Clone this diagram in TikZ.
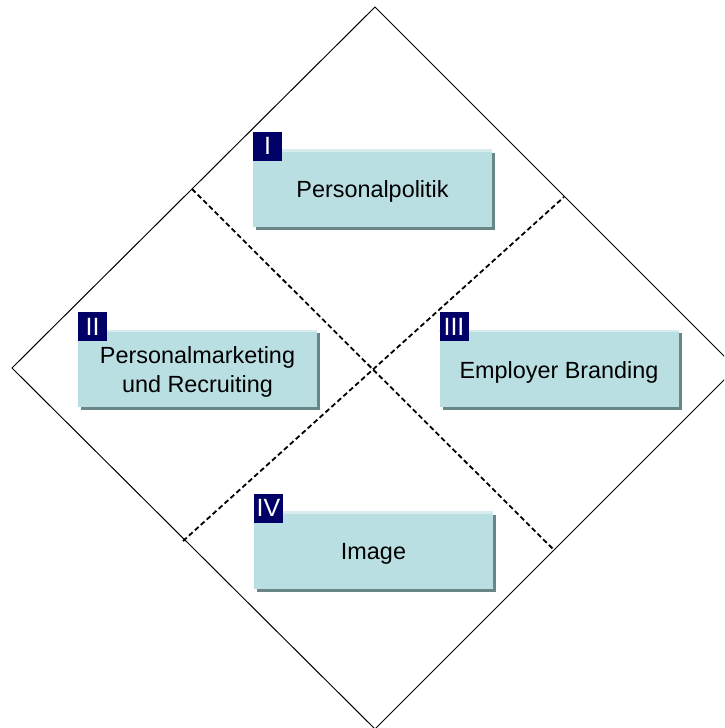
\documentclass[tikz,border=0pt]{standalone}
\usepackage{fontspec}
\setmainfont{Liberation Sans}
\usetikzlibrary{calc}
\definecolor{boxfill}{RGB}{185,223,227}
\definecolor{boxtop}{RGB}{214,236,238}
\definecolor{boxshadow}{RGB}{104,134,134}
\definecolor{tagnavy}{RGB}{0,0,102}
\tikzset{
  field/.style={fill=boxfill, minimum width=239pt, minimum height=77pt,
    inner sep=0pt},
  fieldtext/.style={align=center, inner sep=0pt,
    font=\fontsize{23.4}{29}\selectfont, text=black},
  tag/.style={fill=tagnavy, text=white, minimum width=29pt, minimum height=29pt,
    inner sep=0pt, font=\fontsize{25}{28}\selectfont, anchor=north west},
  frame/.style={line width=1pt, black},
  divider/.style={line width=1.8pt, dash pattern=on 5pt off 3pt, black},
}
% shadowed box with a light top edge, a caption and a numbered tag
\newcommand{\fieldbox}[4]{%
  \fill[boxshadow] ($(#1)+(-116.5,-35.5)$) rectangle ($(#1)+(122.5,41.5)$);
  \node[field] (#2) at (#1) {};
  \fill[boxtop] (#2.north west) rectangle ($(#2.north east)+(0,2.5)$);
  \node[fieldtext] (#2c) at ($(#2.center)+(0,3.5)$) {#3};
  \node[tag] (#2t) at ($(#2.north west)+(0,-18)$) {#4};
}
\begin{document}
\begin{tikzpicture}[x=1pt,y=-1pt]
\useasboundingbox (0,0) rectangle (724,728);
\clip (0,0) rectangle (724,728);
\fill[white] (0,0) rectangle (724,728);

% outer diamond
\coordinate (dt) at (375,7);
\coordinate (dr) at (736,368);
\coordinate (db) at (375,729);
\coordinate (dl) at (12,368);
\draw[frame] (dt) -- (dr) -- (db) -- (dl) -- cycle;

% quadrant dividers
\coordinate (p1) at (192,189);
\coordinate (p2) at (554,550);
\coordinate (p3) at (183,541);
\coordinate (p4) at (564,197);
\draw[divider] (p1) -- (p2);
\draw[divider] (p3) -- (p4);

% quadrant boxes
\fieldbox{372.5,188}{b1}{Personalpolitik}{I}
\fieldbox{197.5,368.5}{b2}{Personalmarketing\\und Recruiting}{II}
\fieldbox{559,368.5}{b3}{Employer Branding}{III}
\fieldbox{373.5,550}{b4}{Image}{IV}
\end{tikzpicture}
\end{document}
